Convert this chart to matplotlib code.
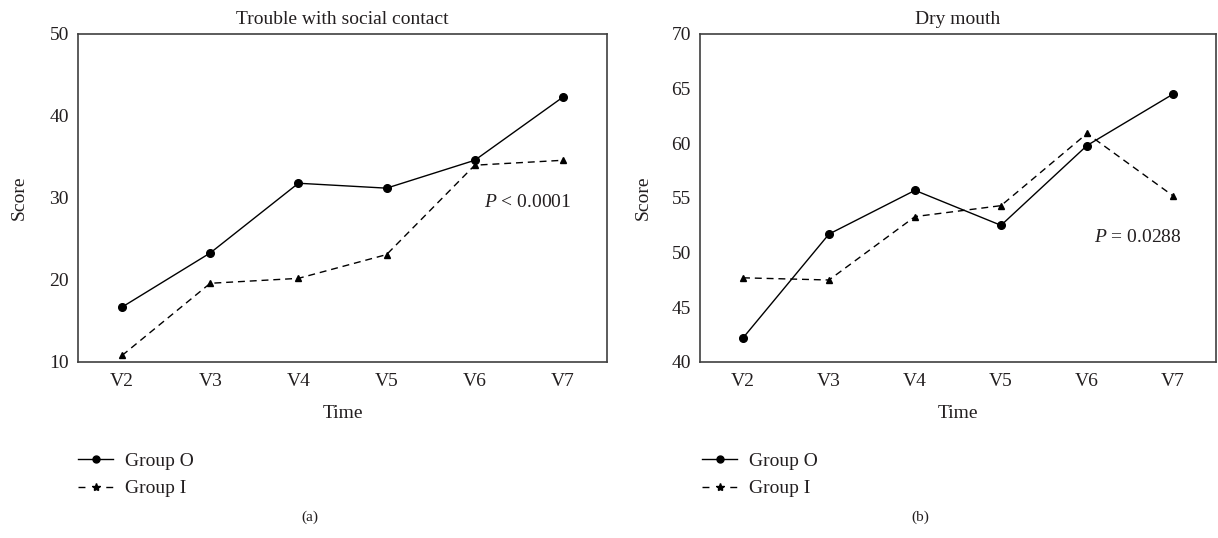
import matplotlib
matplotlib.use('Agg')
import matplotlib.pyplot as plt
from matplotlib.lines import Line2D

# ── Data ─────────────────────────────────────────────────────────────────────
visits = ['V2', 'V3', 'V4', 'V5', 'V6', 'V7']

social_O = [16.7, 23.3, 31.8, 31.2, 34.6, 42.3]
social_I = [10.8, 19.6, 20.2, 23.1, 34.0, 34.6]

dry_O = [42.2, 51.7, 55.7, 52.5, 59.8, 64.5]
dry_I = [47.7, 47.5, 53.3, 54.3, 60.9, 55.2]

titles = ['Trouble with social contact', 'Dry mouth']
ylims = [(10, 50), (40, 70)]
yticks = [[10, 20, 30, 40, 50], [40, 45, 50, 55, 60, 65, 70]]
p_text = [r'$\it{P}$ < 0.0001', r'$\it{P}$ = 0.0288']
p_y = [29.5, 51.4]
tags = ['(a)', '(b)']
series = [(social_O, social_I), (dry_O, dry_I)]

# ── Style ────────────────────────────────────────────────────────────────────
plt.rcParams['font.family'] = ['Liberation Serif', 'DejaVu Serif']
plt.rcParams['mathtext.fontset'] = 'custom'
plt.rcParams['mathtext.it'] = 'Liberation Serif:italic'
plt.rcParams['mathtext.rm'] = 'Liberation Serif'
FS = 14
TXT = '#231f20'
SPINE = '#404040'
DASH = (0, (5, 3.5))

W, H = 1218, 538
fig = plt.figure(figsize=(W / 100, H / 100), dpi=100)
boxes = [(78, 607), (700, 1216)]
score_x = [19, 643]
top, bottom = 34, 362
tag_x = [310, 920]
legend_x = [78, 702]

for i in range(2):
    x0, x1 = boxes[i]
    yo, yi = series[i]
    ax = fig.add_axes([x0 / W, 1 - bottom / H, (x1 - x0) / W, (bottom - top) / H])
    x = range(len(visits))
    ax.plot(x, yo, color='black', lw=1.0, marker='o', ms=5.5, zorder=3)
    ax.plot(x, yi, color='black', lw=1.0, ls=DASH, marker='^', ms=4.5, zorder=3)
    ax.set_xlim(-0.5, 5.5)
    ax.set_ylim(*ylims[i])
    ax.set_yticks(yticks[i])
    ax.set_xticks(list(x))
    ax.set_xticklabels(visits)
    ax.tick_params(length=0, labelsize=FS, colors=TXT)
    ax.tick_params(axis='x', pad=8)
    ax.tick_params(axis='y', pad=6.5)
    for s in ax.spines.values():
        s.set_color(SPINE)
        s.set_linewidth(1.2)

    ax.set_xlabel('Time', fontsize=FS, color=TXT)
    ax.xaxis.set_label_coords(0.5, -(413 - bottom) / (bottom - top))
    ax.xaxis.label.set_va('center')
    ax.set_ylabel('Score', fontsize=FS, color=TXT)
    ax.yaxis.set_label_coords((score_x[i] - x0) / (x1 - x0), 0.5)
    ax.yaxis.label.set_va('center')

    ax.text(0.5, 1 + 15 / (bottom - top), titles[i], transform=ax.transAxes,
            ha='center', va='center', fontsize=FS, color=TXT)
    ax.text(5.1, p_y[i], p_text[i], ha='right', va='center', fontsize=FS, color=TXT)

    handles = [
        Line2D([], [], color='black', lw=1.0, marker='o', ms=5),
        Line2D([], [], color='black', lw=1.0, ls=(0, (5, 15)), marker='*', ms=6),
    ]
    ax.legend(handles, ['Group O', 'Group I'], loc='upper left',
              bbox_to_anchor=(legend_x[i] / W, 1 - 452 / H), bbox_transform=fig.transFigure,
              frameon=False, fontsize=FS, borderpad=0, borderaxespad=0,
              handlelength=1.8, handletextpad=0.62, labelspacing=0.52,
              labelcolor=TXT)

    fig.text(tag_x[i] / W, 1 - 517 / H, tags[i], ha='center', va='center',
             fontsize=11, color=TXT)

fig.savefig('out.png', dpi=100)
